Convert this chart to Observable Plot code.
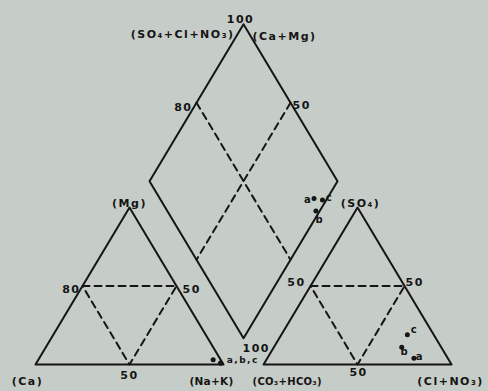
<!DOCTYPE html>
<html><head><meta charset="utf-8">
<script src="https://cdn.jsdelivr.net/npm/d3@7"></script>
<script src="https://cdn.jsdelivr.net/npm/@observablehq/plot@0.6"></script>
<style>html,body{margin:0;padding:0;background:#c6ccc7;}</style>
</head><body><div id="chart"></div>
<script>
// ---- data (percent of meq) ----
const samples = ["a", "b", "c"];
const ca   = [4, 1, 1];
const mg   = [3, 1, 1];
const nak  = [93, 98, 98];
const hco3 = [18, 21, 14];
const so4  = [4, 11, 19];
const cl   = [78, 68, 67];

// ---- text ----
const cationVertexLabels = ["(Ca)", "(Mg)", "(Na+K)"];
const anionVertexLabels = ["(CO₃+HCO₃)", "(SO₄)", "(Cl+NO₃)"];
const diamondVertexLabels = ["100", "100"];            // top, bottom
const diamondAxisTitles = ["(SO₄+Cl+NO₃)", "(Ca+Mg)"];
const cationTickLabels = ["80", "50", "50"];          // left side, right side, base
const anionTickLabels = ["50", "50", "50"];
const diamondTickLabels = ["80", "50"];
const leftSampleLabel = "a,b,c";

// ---- layout of the Piper diagram ----
const GAP = 0.213, H = 0.835, LIFT = 0.14;
const cat = (c, m, n) => [(n + 0.5 * m) / 100, H * m / 100];
const ani = (h, s, c) => [1 + GAP + (c + 0.5 * s) / 100, H * s / 100];
const dia = (cm, sc) => [1 + GAP / 2 + 0.5 * (sc - cm) / 100, LIFT + H * (cm + sc) / 100];
const P = ([x, y]) => ({x, y});
const closed = pts => [...pts, pts[0]].map(P);
const open = pts => pts.map(P);

const leftTri = closed([cat(100,0,0), cat(0,0,100), cat(0,100,0)]);
const leftMid = closed([cat(50,50,0), cat(0,50,50), cat(50,0,50)]);
const rightTri = closed([ani(100,0,0), ani(0,0,100), ani(0,100,0)]);
const rightMid = closed([ani(50,50,0), ani(0,50,50), ani(50,0,50)]);
const diamond = closed([dia(0,0), dia(0,100), dia(100,100), dia(100,0)]);
const diaDashA = open([dia(100,50), dia(0,50)]);
const diaDashB = open([dia(50,100), dia(50,0)]);

const catPts = samples.map((s, i) => ({s, ...P(cat(ca[i], mg[i], nak[i]))}));
const aniPts = samples.map((s, i) => ({s, ...P(ani(hco3[i], so4[i], cl[i]))}));
const diaPts = samples.map((s, i) => ({s, ...P(dia(ca[i] + mg[i], so4[i] + cl[i]))}));

const INK = "#151515";
const solid = d => Plot.line(d, {x: "x", y: "y", stroke: INK, strokeWidth: 2});
const dashed = d => Plot.line(d, {x: "x", y: "y", stroke: INK, strokeWidth: 2, strokeDasharray: "7,5"});
const font = {fontFamily: "DejaVu Sans", fontWeight: "bold", fill: INK};
const label = (pt, text, opts) => Plot.text([P(pt)], {x: "x", y: "y", text: () => text, fontSize: 11, ...font, ...opts});

const ptLabel = (pts, s, opts) => Plot.text(pts.filter(d => d.s === s), {x: "x", y: "y", text: "s", fontSize: 10, ...font, ...opts});

const W = 488, HT = 391, SC = 188, X0 = 35, Y0 = 364;

const chart = Plot.plot({
  width: W, height: HT,
  margin: 0,
  x: {domain: [-X0 / SC, (W - X0) / SC], axis: null},
  y: {domain: [(Y0 - HT) / SC, Y0 / SC], axis: null},
  style: {background: "#c6ccc7", letterSpacing: "1.5px"},
  marks: [
    dashed(leftMid), dashed(rightMid), dashed(diaDashA), dashed(diaDashB),
    solid(leftTri), solid(rightTri), solid(diamond),
    Plot.dot(catPts, {x: "x", y: "y", r: 2.5, fill: INK}),
    Plot.dot(aniPts, {x: "x", y: "y", r: 2.5, fill: INK}),
    Plot.dot(diaPts, {x: "x", y: "y", r: 2.5, fill: INK}),

    // left (cation) triangle
    label(cat(100,0,0), cationVertexLabels[0], {dx: -8, dy: 17}),
    label(cat(0,100,0), cationVertexLabels[1], {dy: -4}),
    label(cat(0,0,100), cationVertexLabels[2], {dx: -12, dy: 17, fontSize: 10.5}),
    label(cat(50,50,0), cationTickLabels[0], {textAnchor: "end", dx: -2, dy: 3}),
    label(cat(0,50,50), cationTickLabels[1], {textAnchor: "start", dx: 6, dy: 3}),
    label(cat(50,0,50), cationTickLabels[2], {dy: 11}),

    // right (anion) triangle
    label(ani(100,0,0), anionVertexLabels[0], {textAnchor: "start", dx: -11, dy: 17, fontSize: 10}),
    label(ani(0,100,0), anionVertexLabels[1], {dx: 3, dy: -4}),
    label(ani(0,0,100), anionVertexLabels[2], {dx: -1, dy: 17}),
    label(ani(50,50,0), anionTickLabels[0], {textAnchor: "end", dx: -5, dy: -4}),
    label(ani(0,50,50), anionTickLabels[1], {textAnchor: "start", dx: 1, dy: -4}),
    label(ani(50,0,50), anionTickLabels[2], {dx: 1, dy: 8}),

    // diamond
    label(dia(100,100), diamondVertexLabels[0], {dx: -3, dy: -5}),
    label(dia(0,0), diamondVertexLabels[1], {textAnchor: "start", dx: -1, dy: 10}),
    label(dia(100,100), diamondAxisTitles[0], {textAnchor: "end", dx: -9, dy: 10}),
    label(dia(100,100), diamondAxisTitles[1], {textAnchor: "start", dx: 9, dy: 12}),
    label(dia(100,50), diamondTickLabels[0], {textAnchor: "end", dx: -4, dy: 5}),
    label(dia(50,100), diamondTickLabels[1], {textAnchor: "start", dx: 2, dy: 3}),

    // sample letters
    label(cat(ca[1], mg[1], nak[1]), leftSampleLabel, {textAnchor: "start", dx: 6, dy: -3, fontSize: 9}),
    ptLabel(aniPts, "a", {dx: 6, dy: -1}),
    ptLabel(aniPts, "b", {dx: 3, dy: 5}),
    ptLabel(aniPts, "c", {dx: 7, dy: -5}),
    ptLabel(diaPts, "a", {dx: -6, dy: 1}),
    ptLabel(diaPts, "b", {dx: 4, dy: 9}),
    ptLabel(diaPts, "c", {dx: 7, dy: -2})
  ]
});
// tighter spacing for the two crowded bottom labels
d3.select(chart).selectAll("text")
  .filter(function () { return this.textContent === anionVertexLabels[0] || this.textContent === cationVertexLabels[2]; })
  .style("letter-spacing", "0.3px");
document.getElementById("chart").appendChild(chart);
</script>
</body></html>
